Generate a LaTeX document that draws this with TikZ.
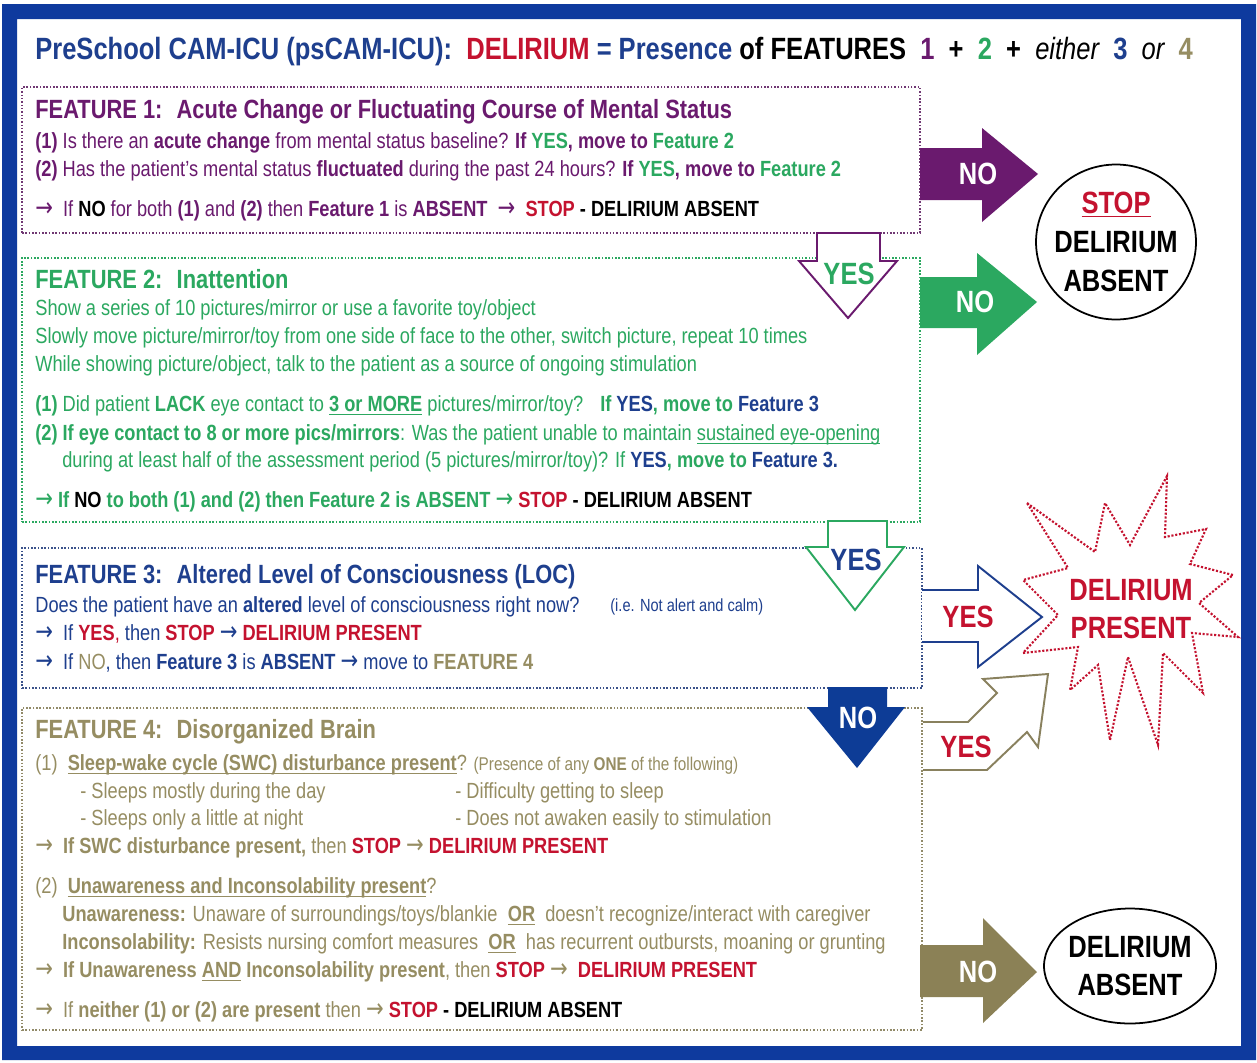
\documentclass[tikz,border=0pt]{standalone}
\usepackage{fontspec}
\setmainfont{Liberation Sans}[FakeStretch=0.83]
\newfontfamily\arrowfont{DejaVu Sans}[FakeStretch=0.8]
\usepackage{tikz}
\usetikzlibrary{positioning,fit,shapes.geometric}
\definecolor{frameblue}{HTML}{0E3A9E}
\definecolor{camblue}{HTML}{1E3F8E}
\definecolor{delred}{HTML}{C4122F}
\definecolor{fonepurple}{HTML}{6A1A6E}
\definecolor{ftwogreen}{HTML}{2BA860}
\definecolor{fthreeblue}{HTML}{1E3F8E}
\definecolor{ffourolive}{HTML}{968D62}
\definecolor{olivefill}{HTML}{8B8156}
\definecolor{nofillblue}{HTML}{0D3C96}
\newcommand{\ra}{{\arrowfont\mdseries\fontsize{15}{15}\selectfont →}}
\newcommand{\rstop}{\textcolor{delred}{\textbf{STOP}}}
\newcommand{\dpres}{\textcolor{delred}{\textbf{DELIRIUM PRESENT}}}
\newcommand{\dabs}{\textcolor{black}{\textbf{- DELIRIUM ABSENT}}}
\newcommand{\undl}[1]{\setbox0\hbox{#1}\rlap{\raisebox{-1.8pt}{\rule{\wd0}{0.6pt}}}\box0\relax}

\begin{document}
\begin{tikzpicture}[x=0.02cm, y=-0.02cm,
  line/.style={anchor=west, inner sep=0pt, font=\fontsize{12.5}{15}\selectfont},
  small/.style={anchor=west, inner sep=0pt, font=\fontsize{10}{12}\selectfont},
  head/.style={anchor=west, inner sep=0pt, font=\fontsize{15}{18}\selectfont\bfseries},
  fbox/.style={draw, densely dotted, line width=0.9pt, inner sep=0pt},
  big/.style={inner sep=0pt, align=center, font=\fontsize{17.5}{22}\selectfont\bfseries},
  hollow/.style={fill=white, line width=1.1pt, line join=miter},
  oval/.style={draw, ellipse, line width=1pt, inner sep=0pt}
]
  \useasboundingbox (0,0) rectangle (1257,1062);
  \fill[white] (0,0) rectangle (1257,1062);

  %% Frame
  \fill[frameblue, even odd rule] (2,4) rectangle (1256,1060) (17,19) rectangle (1241,1046);

  %% Title
  \node[anchor=west, inner sep=0pt, font=\fontsize{17.5}{21}\selectfont\bfseries, text=camblue] (title) at (35,52)
    {PreSchool CAM-ICU (psCAM-ICU): \ \textcolor{delred}{DELIRIUM} = Presence \textcolor{black}{of FEATURES} \
     \textcolor{fonepurple}{1} \ \textcolor{black}{+} \ \textcolor{ftwogreen}{2} \ \textcolor{black}{+} \
     \textcolor{black}{\mdseries\itshape either} \ 3 \ \textcolor{black}{\mdseries\itshape or} \ \textcolor{ffourolive}{4}};

  %% Feature boxes
  \node[fbox, draw=fonepurple!70!gray, fit={(22,87) (920,233)}] (f1box) {};
  \node[fbox, draw=ftwogreen, fit={(22,258) (920,522)}] (f2box) {};
  \node[fbox, draw=fthreeblue!70!gray, fit={(22,548) (922,688)}] (f3box) {};
  \node[fbox, draw=ffourolive!80!gray, fit={(22,708) (922,1030)}] (f4box) {};

  %% Feature 1
  \node[head, text=fonepurple] (f1head) at (35,112) {FEATURE 1: \ Acute Change or Fluctuating Course of Mental Status};
  \node[line, text=fonepurple] (f1q1) at (35,143)
    {\textbf{(1)} Is there an \textbf{acute change} from mental status baseline? \textbf{If \textcolor{ftwogreen}{YES}, move to \textcolor{ftwogreen}{Feature 2}}};
  \node[line, text=fonepurple] (f1q2) at (35,171)
    {\textbf{(2)} Has the patient’s mental status \textbf{fluctuated} during the past 24 hours? \textbf{If \textcolor{ftwogreen}{YES}, move to \textcolor{ftwogreen}{Feature 2}}};
  \node[line, text=fonepurple] (f1out) at (35,211)
    {\ra\ \ If \textcolor{black}{\textbf{NO}} for both \textbf{(1)} and \textbf{(2)} then \textbf{Feature 1} is \textbf{ABSENT} \ \ra\ \ \rstop\ \dabs};

  %% Feature 2
  \node[head, text=ftwogreen] (f2head) at (35,279) {FEATURE 2: \ Inattention};
  \node[line, text=ftwogreen] (f2a) at (35,310) {Show a series of 10 pictures/mirror or use a favorite toy/object};
  \node[line, text=ftwogreen] (f2b) at (35,338) {Slowly move picture/mirror/toy from one side of face to the other, switch picture, repeat 10 times};
  \node[line, text=ftwogreen] (f2c) at (35,366) {While showing picture/object, talk to the patient as a source of ongoing stimulation};
  \node[line, text=ftwogreen] (f2q1) at (35,406)
    {\textbf{(1)} Did patient \textbf{LACK} eye contact to \textbf{\undl{3 or MORE}} pictures/mirror/toy? \ \ \textbf{If \textcolor{fthreeblue}{YES}, move to \textcolor{fthreeblue}{Feature 3}}};
  \node[line, text=ftwogreen] (f2q2) at (35,435)
    {\textbf{(2) If eye contact to 8 or more pics/mirrors}: Was the patient unable to maintain \undl{sustained eye-opening}};
  \node[line, text=ftwogreen] (f2q2b) at (62,462)
    {during at least half of the assessment period (5 pictures/mirror/toy)? If \textbf{\textcolor{fthreeblue}{YES}, move to \textcolor{fthreeblue}{Feature 3.}}};
  \node[line, text=ftwogreen] (f2out) at (35,502)
    {\ra\ \textbf{If \textcolor{black}{NO} to both (1) and (2) then Feature 2 is ABSENT} \ra\ \rstop\ \dabs};

  %% Feature 3
  \node[head, text=fthreeblue] (f3head) at (35,577) {FEATURE 3: \ Altered Level of Consciousness (LOC)};
  \node[line, text=fthreeblue] (f3q) at (35,607) {Does the patient have an \textbf{altered} level of consciousness right now?};
  \node[small, text=fthreeblue] (f3ie) at (610,607) {(i.e. Not alert and calm)};
  \node[line, text=fthreeblue] (f3yes) at (35,634)
    {\ra\ \ If \textcolor{delred}{\textbf{YES},} then \rstop\ \ra\ \dpres};
  \node[line, text=fthreeblue] (f3no) at (35,663)
    {\ra\ \ If \textcolor{ffourolive}{NO}, then \textbf{Feature 3} is \textbf{ABSENT} \ra\ move to \textcolor{ffourolive}{\textbf{FEATURE 4}}};

  %% Feature 4
  \node[head, text=ffourolive] (f4head) at (35,732) {FEATURE 4: \ Disorganized Brain};
  \node[line, text=ffourolive] (f4q1) at (35,765)
    {(1) \ \textbf{\undl{Sleep-wake cycle (SWC) disturbance present}}? {\fontsize{10.5}{12}\selectfont (Presence of any \textbf{ONE} of the following)}};
  \node[line, text=ffourolive] (f4s1) at (80,793) {- Sleeps mostly during the day};
  \node[line, text=ffourolive] (f4s2) at (455,793) {- Difficulty getting to sleep};
  \node[line, text=ffourolive] (f4s3) at (80,820) {- Sleeps only a little at night};
  \node[line, text=ffourolive] (f4s4) at (455,820) {- Does not awaken easily to stimulation};
  \node[line, text=ffourolive] (f4out1) at (35,848)
    {\ra\ \ \textbf{If SWC disturbance present,} then \rstop\ \ra\ \dpres};
  \node[line, text=ffourolive] (f4q2) at (35,888)
    {(2) \ \textbf{\undl{Unawareness and Inconsolability present}}?};
  \node[line, text=ffourolive] (f4u) at (62,916)
    {\textbf{Unawareness:} Unaware of surroundings/toys/blankie \ \textbf{\undl{OR}} \ doesn’t recognize/interact with caregiver};
  \node[line, text=ffourolive] (f4i) at (62,944)
    {\textbf{Inconsolability:} Resists nursing comfort measures \ \textbf{\undl{OR}} \ has recurrent outbursts, moaning or grunting};
  \node[line, text=ffourolive] (f4out2) at (35,972)
    {\ra\ \ \textbf{If Unawareness \undl{AND} Inconsolability present}, then \rstop\ \ra\ \ \dpres};
  \node[line, text=ffourolive] (f4out3) at (35,1012)
    {\ra\ \ If \textbf{neither (1) or (2) are present} then \ra\ \rstop\ \dabs};

  %% Outcomes
  \node[oval, minimum width=3.2cm, minimum height=3.1cm] (absent1) at (1116,242) {};
  \node[big] at (absent1) {\textcolor{delred}{\undl{STOP}}\\DELIRIUM\\ABSENT};
  \node[oval, minimum width=3.44cm, minimum height=2.3cm] (absent2) at (1130,966) {};
  \node[big] at (absent2) {DELIRIUM\\ABSENT};
  \draw[delred, densely dotted, line width=1.2pt] (1027,503) -- (1095,552) -- (1105,503) -- (1130,545)
    -- (1167,476) -- (1165,537) -- (1206,529) -- (1190,564) -- (1233,575) -- (1199,603)
    -- (1238,637) -- (1192,633) -- (1203,693) -- (1163,653) -- (1158,745) -- (1128,657)
    -- (1110,740) -- (1098,665) -- (1070,690) -- (1078,647) -- (1023,653) -- (1058,615)
    -- (1023,580) -- (1068,568) -- cycle;
  \node[big, text=delred] (present) at (1131,609) {DELIRIUM\\PRESENT};

  %% Block arrows
  \fill[fonepurple] (920,148) -- (982,148) -- (982,128) -- (1038,174) -- (982,222) -- (982,200) -- (920,200) -- cycle;
  \node[big, text=white] (no1) at (978,174) {NO};
  \fill[ftwogreen] (920,277) -- (977,277) -- (977,253) -- (1037,302) -- (977,355) -- (977,328) -- (920,328) -- cycle;
  \node[big, text=white] (no2) at (975,302) {NO};
  \draw[hollow, draw=fonepurple] (817,233) -- (880,233) -- (880,261) -- (897,261) -- (848,318) -- (799,261) -- (817,261) -- cycle;
  \node[big, text=ftwogreen] (yes12) at (849,274) {YES};
  \draw[hollow, draw=ftwogreen] (828,521) -- (887,521) -- (887,547) -- (904,547) -- (855,610) -- (806,547) -- (828,547) -- cycle;
  \node[big, text=fthreeblue] (yes23) at (856,560) {YES};
  \filldraw[hollow, draw=fthreeblue] (922,590) -- (978,590) -- (978,566) -- (1042,617) -- (978,667) -- (978,642) -- (922,642);
  \node[big, text=delred] (yes3) at (968,617) {YES};
  \fill[nofillblue] (828,687) -- (887,687) -- (887,707) -- (905,707) -- (857,768) -- (807,707) -- (828,707) -- cycle;
  \node[big, text=white] (no34) at (858,718) {NO};
  \filldraw[hollow, draw=olivefill!80!gray] (923,722) -- (968,722) -- (997,693) -- (983,679) -- (1048,674)
    -- (1038,747) -- (1027,732) -- (987,770) -- (923,770);
  \node[big, text=delred] (yes4) at (966,747) {YES};
  \fill[olivefill] (920,945) -- (983,945) -- (983,918) -- (1037,972) -- (983,1023) -- (983,997) -- (920,997) -- cycle;
  \node[big, text=white] (no4) at (978,972) {NO};
\end{tikzpicture}
\end{document}
